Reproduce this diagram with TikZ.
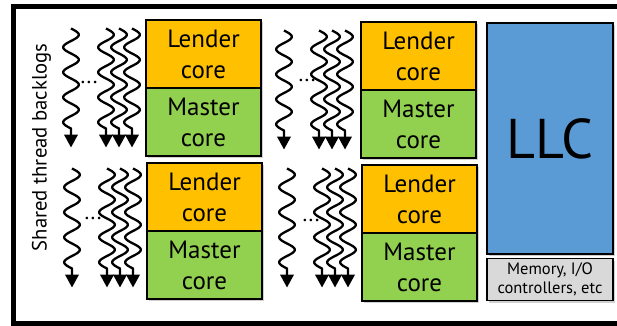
\documentclass[tikz,border=0pt]{standalone}
\usepackage{fontspec}
\setmainfont{PT Sans}
\usetikzlibrary{arrows.meta,shadows}
\definecolor{lenderc}{HTML}{FFC000}
\definecolor{masterc}{HTML}{92D050}
\definecolor{llcc}{HTML}{5B9BD5}
\definecolor{memc}{HTML}{D9D9D9}
\newcommand\kcorefont{\fontsize{25}{31}\selectfont}
\tikzset{
  wave/.style={line width=2.3pt, line join=round, -{Triangle[width=13.5pt,length=13pt]}},
  boxshadow/.style={drop shadow={shadow xshift=2pt, shadow yshift=-2pt, opacity=0.3, fill=black!60}},
  corebox/.style={draw, line width=1.8pt, minimum width=115pt, minimum height=68pt,
    align=center, font=\kcorefont, inner sep=0pt, boxshadow},
  lender/.style={corebox, fill=lenderc},
  master/.style={corebox, fill=masterc},
  dotsnode/.style={inner sep=0pt, font=\fontsize{22}{22}\selectfont},
}
% wave: 4 periods of 25pt (100pt), then a straight run to the tip
\newcommand\backloggroup[5]{%
  \foreach \k/\dx in {a/0,b/35,c/48,d/61}{
    \coordinate (#1-\k-top) at ({#2+\dx},{#3-1.5});
    \coordinate (#1-\k-tip) at ({#2+\dx},{#3+117.5});
    \draw[wave] (#1-\k-top) -- plot[variable=\t,domain=0:100,samples=120,smooth]
      ({#2+\dx+7.8*sin(\t*14.4)},{#3-1.5+\t}) -- (#1-\k-tip);
  }
  \node[dotsnode] (#1-dots) at (#4,#5) {...};
}
\begin{document}
\begin{tikzpicture}[x=1pt,y=-1pt]
\useasboundingbox (0,0) rectangle (617,325);
\fill[white] (0,0) rectangle (617,325);
% outer frame
\draw[line width=5pt] (640,6.5) -- (13,6.5) -- (13,323.5) -- (640,323.5);
% label
\node[rotate=90, anchor=base, inner sep=0pt, font=\fontsize{20.7}{24}\selectfont] (backlogs) at (46.5,147.5) {Shared thread backlogs};
% backlogs
\backloggroup{tl}{71}{30}{89}{82}
\backloggroup{tr}{284}{32}{307}{80}
\backloggroup{bl}{72}{170}{93}{218}
\backloggroup{br}{287}{170}{311}{220}
% cores
\node[lender] (tl-lender) at (203.5,54) {Lender\\core};
\node[master] (tl-master) at (203.5,122) {Master\\core};
\node[lender] (tr-lender) at (418.5,56) {Lender\\core};
\node[master] (tr-master) at (418.5,124) {Master\\core};
\node[lender] (bl-lender) at (204.5,197) {Lender\\core};
\node[master] (bl-master) at (204.5,265) {Master\\core};
\node[lender] (br-lender) at (419.5,199) {Lender\\core};
\node[master] (br-master) at (419.5,267) {Master\\core};
% LLC and memory
\node[draw, fill=llcc, line width=1.8pt, minimum width=126pt, minimum height=231pt,
  inner sep=0pt, font=\fontsize{56}{56}\selectfont, boxshadow] (llc) at (550,138.5) {LLC};
\node[draw, fill=memc, line width=1.8pt, minimum width=126pt, minimum height=42pt,
  inner sep=0pt, align=center, font=\fontsize{16.5}{19.5}\selectfont, boxshadow] (mem) at (550,279.5) {Memory, I/O\\controllers, etc};
\end{tikzpicture}
\end{document}
